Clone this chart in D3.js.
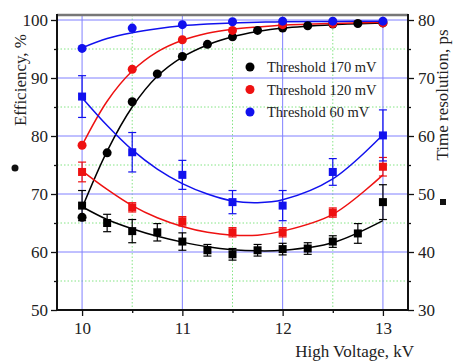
<!DOCTYPE html>
<html>
<head>
<meta charset="utf-8">
<script src="https://cdn.jsdelivr.net/npm/d3@7"></script>
<style>
  body { margin: 0; background: #fff; }
  text { font-family: "Liberation Serif", "Times New Roman", serif; fill: #222; }
</style>
</head>
<body>
<svg id="chart" width="453" height="363"></svg>
<script>
// high voltage values, kV
var voltsFine = [10, 10.25, 10.5, 10.75, 11, 11.25, 11.5, 11.75, 12, 12.25, 12.5, 12.75, 13];
var voltsHalf = [10, 10.5, 11, 11.5, 12, 12.5, 13];

// efficiency, % (circles, left axis)
var eff170 = [66.0, 77.1, 85.9, 90.7, 93.7, 95.8, 97.1, 98.2, 98.6, 99.0, 99.3, 99.4, 99.5];
var eff120 = [78.4, 91.5, 96.6, 98.2, 99.2, 99.4, 99.5];
var eff60 = [95.1, 98.6, 99.2, 99.7, 99.8, 99.8, 99.8];

// time resolution, ps (squares, right axis) and error bars
var tr170 = [48.0, 45.0, 43.6, 43.4, 41.8, 40.3, 39.6, 40.3, 40.5, 40.6, 41.8, 43.2, 48.6];
var tr170err = [2.6, 1.5, 2.0, 1.5, 1.5, 1.0, 1.0, 1.0, 1.0, 1.0, 1.0, 1.7, 3.0];
var tr120 = [53.8, 47.7, 45.3, 43.4, 43.4, 46.8, 54.7];
var tr120err = [1.7, 0.8, 0.8, 0.8, 0.8, 0.8, 1.6];
var tr60 = [66.8, 57.2, 53.3, 48.6, 48.0, 53.8, 60.1];
var tr60err = [3.6, 3.4, 2.5, 2.0, 2.6, 2.3, 4.4];

// fitted curves
var fitX = [10, 10.25, 10.5, 10.75, 11, 11.25, 11.5, 11.75, 12, 12.5, 13];
var fitEff170 = [67.6, 77.4, 85.0, 90.3, 93.6, 95.7, 97.1, 98.0, 98.6, 99.2, 99.5];
var fitEff120 = [78.4, 86.0, 91.2, 94.5, 96.5, 97.7, 98.4, 98.8, 99.1, 99.4, 99.6];
var fitEff60 = [95.2, 96.8, 97.8, 98.5, 99.0, 99.3, 99.5, 99.6, 99.7, 99.75, 99.8];
var fitTr170 = [47.8, 45.6, 44.0, 42.7, 41.7, 40.9, 40.4, 40.2, 40.3, 41.6, 45.4];
var fitTr120 = [54.0, 50.8, 48.0, 45.9, 44.4, 43.4, 42.9, 42.9, 43.6, 46.5, 53.3];
var fitTr60 = [66.6, 61.8, 57.6, 54.3, 51.8, 50.0, 48.8, 48.5, 49.0, 52.6, 60.2];

var seriesColors = ['#000000', '#ee1111', '#1111ee'];
var legendLabels = ['Threshold 170 mV', 'Threshold 120 mV', 'Threshold 60 mV'];

var svg = d3.select('#chart');
var margin = {top: 15, right: 45, bottom: 53, left: 57};
var width = +svg.attr('width') - margin.left - margin.right;
var height = +svg.attr('height') - margin.top - margin.bottom;
var g = svg.append('g').attr('transform', 'translate(' + margin.left + ',' + margin.top + ')');

var x = d3.scaleLinear().domain([9.75, 13.25]).range([0, width]);
var yL = d3.scaleLinear().domain([50, 100 + 5 / 5.8]).range([height, 0]);
var yR = d3.scaleLinear().domain([30, 80 + 5 / 5.8]).range([height, 0]);

// grid: minor green dotted, major blue
var minorX = [10.5, 11.5, 12.5];
var minorY = [55, 65, 75, 85, 95];
var majorX = [10, 11, 12, 13];
var majorY = [60, 70, 80, 90, 100];

g.selectAll('.gminx').data(minorX).enter().append('line')
  .attr('x1', function(d) { return x(d); }).attr('x2', function(d) { return x(d); })
  .attr('y1', 0).attr('y2', height)
  .attr('stroke', '#66dd66').attr('stroke-width', 0.8).attr('stroke-dasharray', '1.5,2');
g.selectAll('.gminy').data(minorY).enter().append('line')
  .attr('x1', 0).attr('x2', width)
  .attr('y1', function(d) { return yL(d); }).attr('y2', function(d) { return yL(d); })
  .attr('stroke', '#66dd66').attr('stroke-width', 0.8).attr('stroke-dasharray', '1.5,2');
g.selectAll('.gmajx').data(majorX).enter().append('line')
  .attr('x1', function(d) { return x(d); }).attr('x2', function(d) { return x(d); })
  .attr('y1', 0).attr('y2', height)
  .attr('stroke', '#8080ff').attr('stroke-width', 1);
g.selectAll('.gmajy').data(majorY).enter().append('line')
  .attr('x1', 0).attr('x2', width)
  .attr('y1', function(d) { return yL(d); }).attr('y2', function(d) { return yL(d); })
  .attr('stroke', '#8080ff').attr('stroke-width', 1);

// fit curves
function fitLine(ys, scale) {
  return d3.line()
    .x(function(d, i) { return x(fitX[i]); })
    .y(function(d) { return scale(d); })
    .curve(d3.curveCatmullRom.alpha(0.5))(ys);
}
var fitsEff = [fitEff170, fitEff120, fitEff60];
var fitsTr = [fitTr170, fitTr120, fitTr60];
fitsEff.forEach(function(f, i) {
  g.append('path').attr('d', fitLine(f, yL)).attr('fill', 'none')
    .attr('stroke', seriesColors[i]).attr('stroke-width', 1.5);
});
fitsTr.forEach(function(f, i) {
  g.append('path').attr('d', fitLine(f, yR)).attr('fill', 'none')
    .attr('stroke', seriesColors[i]).attr('stroke-width', 1.5);
});

// time resolution squares with error bars
var trSeries = [
  {xs: voltsFine, ys: tr170, err: tr170err, c: seriesColors[0]},
  {xs: voltsHalf, ys: tr120, err: tr120err, c: seriesColors[1]},
  {xs: voltsHalf, ys: tr60, err: tr60err, c: seriesColors[2]}
];
trSeries.forEach(function(s) {
  var pts = s.xs.map(function(v, i) { return {x: v, y: s.ys[i], e: s.err[i]}; });
  var eb = g.append('g');
  eb.selectAll('line.v').data(pts).enter().append('line')
    .attr('x1', function(d) { return x(d.x); }).attr('x2', function(d) { return x(d.x); })
    .attr('y1', function(d) { return yR(d.y - d.e); }).attr('y2', function(d) { return yR(d.y + d.e); })
    .attr('stroke', s.c).attr('stroke-width', 1.2);
  [-1, 1].forEach(function(sg) {
    eb.selectAll('line.c' + sg).data(pts).enter().append('line')
      .attr('x1', function(d) { return x(d.x) - 4; }).attr('x2', function(d) { return x(d.x) + 4; })
      .attr('y1', function(d) { return yR(d.y + sg * d.e); }).attr('y2', function(d) { return yR(d.y + sg * d.e); })
      .attr('stroke', s.c).attr('stroke-width', 1.2);
  });
  eb.selectAll('rect').data(pts).enter().append('rect')
    .attr('x', function(d) { return x(d.x) - 4; })
    .attr('y', function(d) { return yR(d.y) - 4; })
    .attr('width', 8).attr('height', 8)
    .attr('fill', s.c);
});

// efficiency circles
var effSeries = [
  {xs: voltsFine, ys: eff170, c: seriesColors[0]},
  {xs: voltsHalf, ys: eff120, c: seriesColors[1]},
  {xs: voltsHalf, ys: eff60, c: seriesColors[2]}
];
effSeries.forEach(function(s) {
  g.append('g').selectAll('circle').data(s.ys).enter().append('circle')
    .attr('cx', function(d, i) { return x(s.xs[i]); })
    .attr('cy', function(d) { return yL(d); })
    .attr('r', 4.5)
    .attr('fill', s.c);
});

// axes
g.append('g').attr('class', 'axis')
  .call(d3.axisLeft(yL).tickValues([50, 60, 70, 80, 90, 100]).tickSize(6).tickPadding(3));
g.append('g').attr('class', 'axis').attr('transform', 'translate(' + width + ',0)')
  .call(d3.axisRight(yR).tickValues([30, 40, 50, 60, 70, 80]).tickSize(6).tickPadding(4));
g.append('g').attr('class', 'axis').attr('transform', 'translate(0,' + height + ')')
  .call(d3.axisBottom(x).tickValues(majorX).tickFormat(d3.format('d')).tickSize(6).tickPadding(6));

// minor ticks
g.append('g').call(d3.axisLeft(yL).tickValues(minorY).tickSize(3).tickFormat(''));
g.append('g').attr('transform', 'translate(' + width + ',0)')
  .call(d3.axisRight(yR).tickValues([35, 45, 55, 65, 75]).tickSize(3).tickFormat(''));
g.append('g').attr('transform', 'translate(0,' + height + ')')
  .call(d3.axisBottom(x).tickValues(minorX).tickSize(3).tickFormat(''));

g.selectAll('.domain').remove();
g.selectAll('.tick line').attr('stroke', '#111').attr('stroke-width', 1.3);
g.selectAll('.tick text').style('font-family', '"Liberation Serif", serif').style('font-size', '17px').attr('fill', '#222');

// frame
g.append('line').attr('x1', 0).attr('x2', width).attr('y1', 0).attr('y2', 0)
  .attr('stroke', '#777').attr('stroke-width', 2.5);
g.append('line').attr('x1', 0).attr('x2', 0).attr('y1', -1).attr('y2', height)
  .attr('stroke', '#111').attr('stroke-width', 2);
g.append('line').attr('x1', width).attr('x2', width).attr('y1', -1).attr('y2', height)
  .attr('stroke', '#111').attr('stroke-width', 2);
g.append('line').attr('x1', -1).attr('x2', width + 1).attr('y1', height).attr('y2', height)
  .attr('stroke', '#111').attr('stroke-width', 2);

// legend
var legend = g.append('g').attr('transform', 'translate(193,52)');
legendLabels.forEach(function(lab, i) {
  legend.append('circle').attr('cx', 0).attr('cy', i * 22.5).attr('r', 4.5).attr('fill', seriesColors[i]);
  legend.append('text').attr('x', 17).attr('y', i * 22.5 + 5)
    .style('font-size', '14.5px').text(lab);
});

// axis titles
svg.append('text')
  .attr('transform', 'translate(26,80) rotate(-90)')
  .attr('text-anchor', 'middle')
  .style('font-size', '17px')
  .text('Efficiency, %');
svg.append('circle').attr('cx', 15).attr('cy', 168).attr('r', 3.5).attr('fill', '#111');
svg.append('text')
  .attr('transform', 'translate(448,95) rotate(-90)')
  .attr('text-anchor', 'middle')
  .style('font-size', '17px')
  .text('Time resolution, ps');
svg.append('rect').attr('x', 440).attr('y', 199).attr('width', 6).attr('height', 6).attr('fill', '#111');
svg.append('text')
  .attr('x', 414).attr('y', 357)
  .attr('text-anchor', 'end')
  .style('font-size', '17px')
  .text('High Voltage, kV');
</script>
</body>
</html>
